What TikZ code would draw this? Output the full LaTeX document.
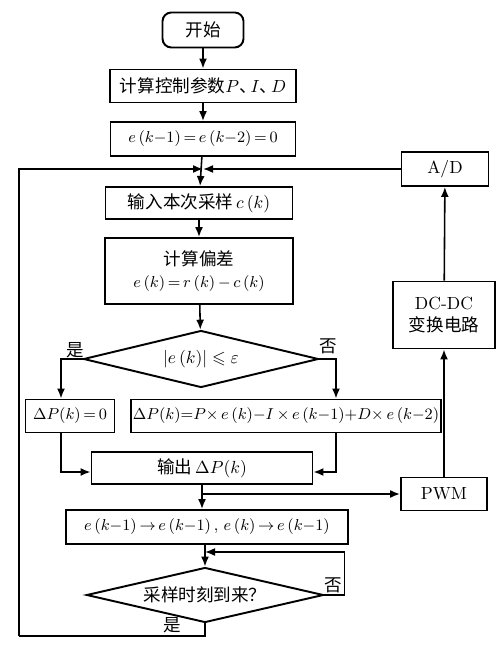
\documentclass[tikz,border=0pt]{standalone}
\usepackage{amssymb}
\usepackage[no-math]{fontspec}
\newfontfamily\cjk{Noto Sans CJK SC}
\newcommand{\zh}[1]{{\cjk #1}}
\usetikzlibrary{shapes.geometric,arrows.meta}

\begin{document}
\begin{tikzpicture}[x=0.02cm,y=-0.02cm,
    font=\fontsize{10}{12.5}\selectfont,
    line width=0.9pt,
    box/.style={draw,line width=1.1pt,inner sep=1pt,align=center},
    mbox/.style={box,font=\fontsize{9.5}{12.5}\selectfont},
    cond/.style={draw,diamond,aspect=4,line width=1.1pt,inner sep=0pt},
    lbl/.style={inner sep=0pt},
    arr/.style={-{Latex[length=2mm,width=1.6mm]}}]
            \useasboundingbox (0,0) rectangle (500,645);

            \node[box,rounded corners=5pt,minimum width=1.62cm,minimum height=0.7cm] (start) at (203,30) {\zh{开始}};
            \node[box,minimum width=3.72cm,minimum height=0.66cm] (pid) at (203,86) {\zh{计算控制参数}$P$\zh{、}\kern-0.35em$I$\zh{、}\kern-0.35em$D$};
            \node[mbox,minimum width=3.7cm,minimum height=0.68cm] (init) at (203,139) {$e\,(k{-}1){\,=\,}e\,(k{-}2){\,=\,}0$};
            \node[box,minimum width=1.74cm,minimum height=0.68cm] (ad) at (445,169) {A/D};
            \node[box,minimum width=3.74cm,minimum height=0.64cm] (input) at (199,203) {\zh{输入本次采样}\,$c\,(k)$};
            \node[box,minimum width=3.76cm,minimum height=1.32cm] (dev) at (199,271) {\zh{计算偏差}\\\fontsize{9.5}{12}\selectfont$e\,(k){\,=\,}r\,(k){\,-\,}c\,(k)$};
            \node[box,minimum width=2.04cm,minimum height=1.34cm] (dcdc) at (444,315) {DC-DC\\\zh{变换电路}};
            \node[cond,minimum width=4.7cm,minimum height=1.14cm] (chk) at (201,359) {$|e\,(k)|\leqslant\varepsilon$};
            \node[mbox,minimum width=1.78cm,minimum height=0.66cm] (dpz) at (70,416) {$\Delta P(k){\,=\,}0$};
            \node[mbox,minimum width=5.9cm,minimum height=0.66cm] (dpk) at (286,416) {$\Delta P(k){=}P{\times}\,e\,(k){-}I{\,\times}\,e\,(k{-}1){+}D{\times}\,e\,(k{-}2)$};
            \node[box,minimum width=4.42cm,minimum height=0.64cm] (out) at (202,468) {\zh{输出}\,$\Delta P(k)$};
            \node[box,minimum width=1.72cm,minimum height=0.66cm] (pwm) at (444,494) {PWM};
            \node[mbox,minimum width=5.64cm,minimum height=0.68cm] (upd) at (207,527) {$e\,(k{-}1)\,{\rightarrow}\,e\,(k{-}1)\,,\,e\,(k)\,{\rightarrow}\,e\,(k{-}1)$};
            \node[cond,minimum width=4.74cm,minimum height=1.1cm] (wait) at (205,595) {\zh{采样时刻到来？}};

            \node[lbl] (yes1) at (75,350) {\zh{是}};
            \node[lbl] (no1) at (328,346) {\zh{否}};
            \node[lbl] (no2) at (333,585) {\zh{否}};
            \node[lbl] (yes2) at (172,625) {\zh{是}};

            \coordinate (join) at (203,169);
            \coordinate (rail) at (19,636);
            \coordinate (split) at (202,494);
            \coordinate (back) at (205,552);

            \draw[arr] (start) -- (pid);
            \draw[arr] (pid) -- (init);
            \draw[arr] (init) -- (input);
            \draw[arr] (ad) -- (join);
            \draw[arr] (rail) |- (join);
            \draw[arr] (input) -- (dev);
            \draw[arr] (dev) -- (chk);
            \draw[arr] (chk.west) -| ([xshift=-0.18cm]dpz.north);
            \draw[arr] (chk.east) -| ([xshift=1cm]dpk.north);
            \draw[arr] ([xshift=-0.18cm]dpz.south) |- ([yshift=-0.08cm]out.west);
            \draw[arr] ([xshift=1cm]dpk.south) |- ([yshift=-0.08cm]out.east);
            \draw[arr] (out) -- (out |- upd.north);
            \draw[arr] (split) -- (pwm);
            \draw[arr] (pwm) -- (dcdc);
            \draw[arr] (dcdc) -- (ad);
            \draw[arr] (wait.north |- upd.south) -- (wait);
            \draw[arr] (wait.east) -- ++(20,0) |- (back);
            \draw (wait.south) |- (rail);
          \end{tikzpicture}
\end{document}
